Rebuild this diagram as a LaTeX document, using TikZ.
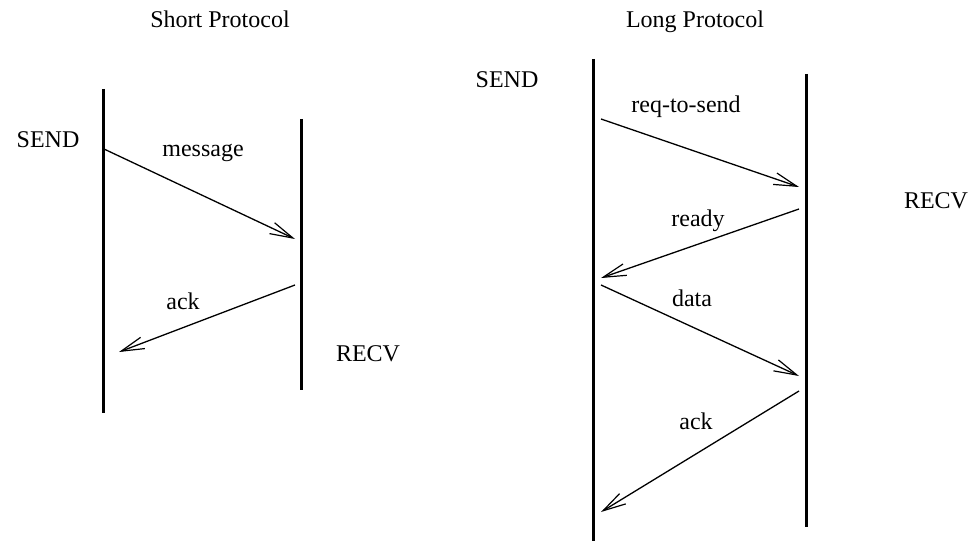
\documentclass[tikz,border=0pt]{standalone}
\usepackage{fontspec}
\setmainfont{Liberation Serif}
\usetikzlibrary{arrows.meta}

\begin{document}
\begin{tikzpicture}[x=1pt,y=-1pt,
    lifeline/.style={line width=3pt},
    msg/.style={line width=1.3pt,-{Straight Barb[length=23pt,width=12pt,line width=1.2pt]}},
    lbl/.style={anchor=base,inner sep=0pt,font=\fontsize{24}{28}\selectfont}]

    \useasboundingbox (0,0) rectangle (973,545);

            %short protocol
            \node[lbl] (shorttitle) at (220,28) {Short Protocol};
            \coordinate (ssendtop) at (103,89);
            \coordinate (ssendbot) at (103,413);
            \coordinate (srecvtop) at (301,119);
            \coordinate (srecvbot) at (301,390);
            \draw[lifeline] (ssendtop) -- (ssendbot);
            \draw[lifeline] (srecvtop) -- (srecvbot);
            \node[lbl] (ssend) at (48,148) {SEND};
            \node[lbl] (srecv) at (368,361) {RECV};

            %short messages
            \coordinate (smsga) at (104,149);
            \coordinate (smsgb) at (295,239);
            \coordinate (sacka) at (295,285);
            \coordinate (sackb) at (119,352);
            \draw[msg] (smsga) -- (smsgb);
            \draw[msg] (sacka) -- (sackb);
            \node[lbl] (smsg) at (203,157) {message};
            \node[lbl] (sack) at (183,309) {ack};

            %long protocol
            \node[lbl] (longtitle) at (695,28) {Long Protocol};
            \coordinate (lsendtop) at (593,59);
            \coordinate (lsendbot) at (593,541);
            \coordinate (lrecvtop) at (806.5,74);
            \coordinate (lrecvbot) at (806.5,527);
            \draw[lifeline] (lsendtop) -- (lsendbot);
            \draw[lifeline] (lrecvtop) -- (lrecvbot);
            \node[lbl] (lsend) at (507,88) {SEND};
            \node[lbl] (lrecv) at (936,208) {RECV};

            %long messages
            \coordinate (lreqa) at (601,119);
            \coordinate (lreqb) at (799,187);
            \coordinate (lrdya) at (799,209);
            \coordinate (lrdyb) at (601,278);
            \coordinate (ldata) at (601,285);
            \coordinate (ldatb) at (799,376);
            \coordinate (lacka) at (799,391);
            \coordinate (lackb) at (601,512);
            \draw[msg] (lreqa) -- (lreqb);
            \draw[msg] (lrdya) -- (lrdyb);
            \draw[msg] (ldata) -- (ldatb);
            \draw[msg] (lacka) -- (lackb);
            \node[lbl] (lreq) at (686,113) {req-to-send};
            \node[lbl] (lrdy) at (698,226) {ready};
            \node[lbl] (ldat) at (692,306) {data};
            \node[lbl] (lack) at (696,429) {ack};
        \end{tikzpicture}
\end{document}
